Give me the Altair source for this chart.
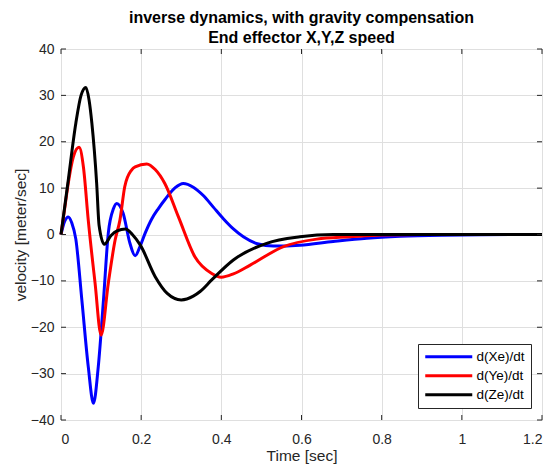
import altair as alt
import pandas as pd

# ---- data ----
series_names = ["d(Xe)/dt", "d(Ye)/dt", "d(Ze)/dt"]
series_colors = ["#0000ff", "#ff0000", "#000000"]

x_t = [0, 0.009, 0.018, 0.027, 0.037, 0.052, 0.068, 0.081, 0.093, 0.106, 0.118,
       0.131, 0.139, 0.155, 0.172, 0.185, 0.197, 0.21, 0.226, 0.243, 0.26, 0.285, 0.305,
       0.33, 0.355, 0.38, 0.405, 0.43, 0.455, 0.49, 0.53, 0.596, 0.679, 0.763, 0.846,
       0.95, 1.05, 1.2]
x_v = [0, 2.8, 3.8, 2.5, -1.0, -14.1, -28.5, -36.4, -28.5, -14.1, 0.3,
       5.6, 6.7, 4.6, -1.9, -4.6, -2.6, 0.3, 3.3, 5.6, 7.6, 10.1, 11.0,
       10.2, 8.4, 5.9, 3.4, 1.2, -0.5, -2.0, -2.5, -2.3, -1.5, -0.8, -0.4,
       -0.15, -0.05, 0]

y_t = [0, 0.009, 0.018, 0.031, 0.045, 0.056, 0.068, 0.085, 0.1, 0.118, 0.135,
       0.147, 0.159, 0.176, 0.185, 0.214, 0.235, 0.259, 0.293, 0.334, 0.376,
       0.4, 0.43, 0.472, 0.555, 0.638, 0.721, 0.8, 0.9, 1.2]
y_v = [0, 5.5, 11.0, 16.8, 18.8, 14.5, 3.1, -10.5, -21.7, -10.5, -1.2,
       3.1, 10.3, 13.9, 14.6, 15.2, 14.0, 11.0, 3.8, -4.8, -8.4,
       -9.2, -8.5, -6.6, -2.6, -1.0, -0.5, -0.1, 0, 0]

z_t = [0, 0.017, 0.037, 0.05, 0.062, 0.07, 0.077, 0.089, 0.095, 0.108, 0.125,
       0.14, 0.161, 0.178, 0.198, 0.235, 0.265, 0.3, 0.33, 0.347, 0.376,
       0.43, 0.513, 0.596, 0.68, 1.2]
z_v = [0, 11.0, 24.0, 30.0, 31.7, 29.0, 24.0, 11.0, 2.0, -2.1, -0.2,
       0.8, 1.2, 0.0, -2.3, -9.1, -12.7, -14.1, -13.3, -12.3, -9.8,
       -5.5, -1.9, -0.5, 0, 0]

x_ticks = [0, 0.2, 0.4, 0.6, 0.8, 1.0, 1.2]
y_ticks = [-40, -30, -20, -10, 0, 10, 20, 30, 40]

# ---- tables ----
rows = []
for name, ts, vs in zip(series_names, [x_t, y_t, z_t], [x_v, y_v, z_v]):
    for t, v in zip(ts, vs):
        rows.append({"t": t, "v": v, "series": name})
df = pd.DataFrame(rows)
xt_df = pd.DataFrame({"tx": x_ticks})
yt_df = pd.DataFrame({"ty": y_ticks})

W, H = 481, 371
FONT = "Liberation Sans"
AX = "#262626"

xscale = alt.Scale(domain=[0, 1.2], nice=False, zero=False)
yscale = alt.Scale(domain=[-40, 40], nice=False, zero=False)

lines = alt.Chart(df).mark_line(strokeWidth=3, interpolate="monotone").encode(
    x=alt.X("t:Q", scale=xscale, title="Time [sec]",
            axis=alt.Axis(values=x_ticks, format="~g", grid=True, gridColor="#dfdfdf",
                          tickSize=0, domain=False, labelPadding=12,
                          labelFontSize=14, labelColor=AX, labelFont=FONT,
                          titleFontSize=15.5, titleFontWeight="normal", titleColor=AX,
                          titleFont=FONT, titlePadding=2)),
    y=alt.Y("v:Q", scale=yscale, title="velocity [meter/sec]",
            axis=alt.Axis(values=y_ticks, grid=True, gridColor="#dfdfdf",
                          tickSize=0, domain=False, labelPadding=7,
                          labelFontSize=14, labelColor=AX, labelFont=FONT,
                          titleFontSize=15.5, titleFontWeight="normal", titleColor=AX,
                          titleFont=FONT, titlePadding=2)),
    color=alt.Color("series:N",
                    scale=alt.Scale(domain=series_names, range=series_colors),
                    legend=alt.Legend(title=None, orient="none", legendX=357, legendY=295,
                                      symbolType="M-4.7,0H4.7", symbolStrokeWidth=3,
                                      symbolSize=100, symbolOffset=18,
                                      labelFontSize=13.5,
                                      labelFont=FONT, labelColor="#000000",
                                      labelOffset=21, strokeColor=AX, fillColor="#ffffff",
                                      padding=6, rowPadding=4)),
    order=alt.Order("series:N"),
)

tick_len = 5
xb = alt.Chart(xt_df).mark_rule(color=AX, strokeWidth=1).encode(
    x=alt.X("tx:Q", scale=xscale), y=alt.value(H), y2=alt.value(H - tick_len))
xtop = alt.Chart(xt_df).mark_rule(color=AX, strokeWidth=1).encode(
    x=alt.X("tx:Q", scale=xscale), y=alt.value(0), y2=alt.value(tick_len))
yl = alt.Chart(yt_df).mark_rule(color=AX, strokeWidth=1).encode(
    y=alt.Y("ty:Q", scale=yscale), x=alt.value(0), x2=alt.value(tick_len))
yr = alt.Chart(yt_df).mark_rule(color=AX, strokeWidth=1).encode(
    y=alt.Y("ty:Q", scale=yscale), x=alt.value(W), x2=alt.value(W - tick_len))

chart = alt.layer(lines, xb, xtop, yl, yr).properties(
    width=W, height=H,
    title=alt.TitleParams(
        text=["inverse dynamics, with gravity compensation", "End effector X,Y,Z speed"],
        fontSize=16, fontWeight="bold", font=FONT, color="#000000",
        anchor="middle", lineHeight=20.5, offset=-4),
    autosize=alt.AutoSizeParams(type="none"),
    padding={"left": 53, "top": 41, "right": 6, "bottom": 44},
).configure_view(stroke=AX, strokeWidth=1).configure(background="white")

chart.save("out.html", embed_options={"renderer": "svg", "actions": False})
